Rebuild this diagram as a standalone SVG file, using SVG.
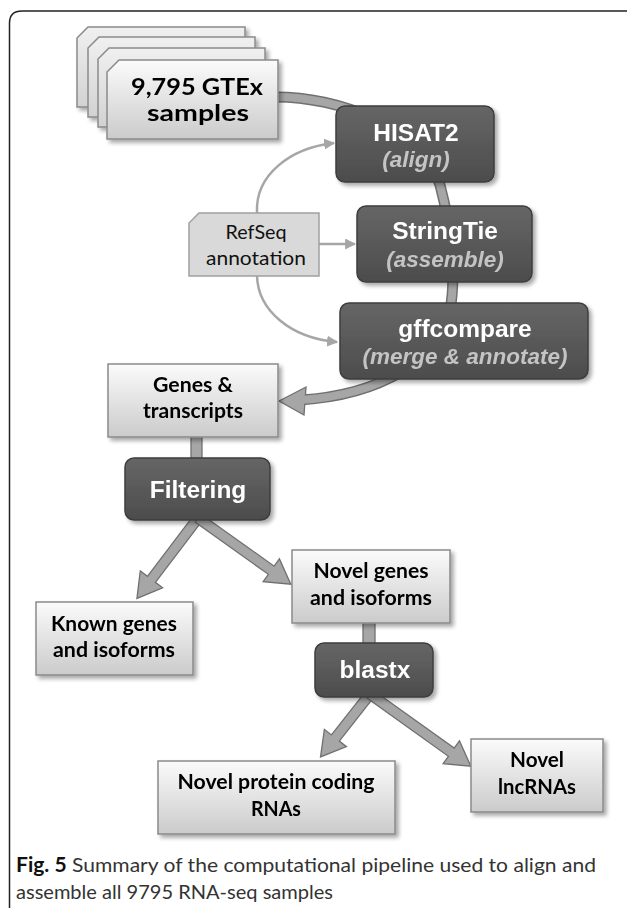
<svg xmlns="http://www.w3.org/2000/svg" width="627" height="908" viewBox="0 0 627 908">
<style>
.lt{font-family:Lato,"Open Sans","Liberation Sans",sans-serif;font-weight:bold;fill:#000;text-anchor:middle}
.dk{font-family:"Liberation Sans",Arial,sans-serif;font-weight:bold;fill:#fff;text-anchor:middle;font-size:24.5px}
.sub{font-family:"Liberation Sans",Arial,sans-serif;font-weight:bold;font-style:italic;fill:#c4c4c4;text-anchor:middle;font-size:22.5px}
.lbox{fill:url(#lg);stroke:#8a8a8a;stroke-width:1.5}
.dbox{fill:url(#dg);stroke:#3e3e3e;stroke-width:1.5}
.band{fill:#a6a6a6;stroke:#707070;stroke-width:1.3}
.thin{fill:none;stroke:#a6a6a6;stroke-width:2.5}
.cap{font-family:Lato,"Open Sans","Liberation Sans",sans-serif;font-size:20px;fill:#333}
</style>
<defs>
<linearGradient id="lg" x1="0" y1="0" x2="0" y2="1"><stop offset="0" stop-color="#fbfbfb"/><stop offset="1" stop-color="#cbcbcb"/></linearGradient>
<linearGradient id="bg" x1="0" y1="0" x2="0" y2="1"><stop offset="0" stop-color="#f0f0f0"/><stop offset="1" stop-color="#d2d2d2"/></linearGradient>
<linearGradient id="dg" x1="0" y1="0" x2="0" y2="1"><stop offset="0" stop-color="#666"/><stop offset="1" stop-color="#4c4c4c"/></linearGradient>
<filter id="sh" x="-10%" y="-10%" width="130%" height="140%"><feGaussianBlur in="SourceAlpha" stdDeviation="2"/><feOffset dx="3" dy="3"/><feComponentTransfer><feFuncA type="linear" slope="0.35"/></feComponentTransfer><feMerge><feMergeNode/><feMergeNode in="SourceGraphic"/></feMerge></filter>
<marker id="ah" viewBox="0 0 10 10" refX="9" refY="5" markerWidth="4.4" markerHeight="4.4" orient="auto" markerUnits="strokeWidth"><path d="M0,0 L10,5 L0,10 Z" fill="#a6a6a6"/></marker>
</defs>
<path d="M627 11 H22 Q9.5 11 9.5 23 V908" fill="none" stroke="#222" stroke-width="1.5"/>
<g id="connectors">
<path d="M270 97 C340 95,425 130,440 185 C452 230,456 280,450 310 C440 360,380 395,300 400" fill="none" stroke="#707070" stroke-width="11"/>
<polygon class="band" points="279,401 306,387 304,415"/>
<path d="M270 97 C340 95,425 130,440 185 C452 230,456 280,450 310 C440 360,380 395,300 400" fill="none" stroke="#a6a6a6" stroke-width="8"/>
<path class="thin" d="M257 213 C255 175,290 148,334 143" marker-end="url(#ah)"/>
<path class="thin" d="M319 244 H355" marker-end="url(#ah)"/>
<path class="thin" d="M257 276 C258 310,290 338,337 342" marker-end="url(#ah)"/>
<rect class="band" x="191" y="434" width="11" height="28"/>
<rect class="band" x="363" y="620" width="12" height="28"/>
<polygon class="band" transform="translate(198,518) rotate(127.2)" points="0,-5 77,-5 77,-14 101,0 77,14 77,5 0,5"/>
<polygon class="band" transform="translate(198,518) rotate(35.5)" points="0,-5 90,-5 90,-14 114,0 90,14 90,5 0,5"/>
<polygon class="band" transform="translate(370,694) rotate(128.2)" points="0,-5 56,-5 56,-14 80,0 56,14 56,5 0,5"/>
<polygon class="band" transform="translate(370,694) rotate(35.6)" points="0,-5 100,-5 100,-14 124,0 100,14 100,5 0,5"/>
</g>
<g id="gtex" filter="url(#sh)">
<path d="M88 27 H245 V107 H77 V38 Z" fill="url(#bg)" stroke="#8a8a8a" stroke-width="1.5"/>
<path d="M99 37 H255 V117 H88 V48 Z" fill="url(#bg)" stroke="#8a8a8a" stroke-width="1.5"/>
<path d="M109 48 H265 V127 H98 V59 Z" fill="url(#bg)" stroke="#8a8a8a" stroke-width="1.5"/>
<path class="lbox" d="M119 60 H278 V139 H107 V72 Z"/>
<text class="lt" x="197" y="95" font-size="23.5" textLength="132" lengthAdjust="spacingAndGlyphs">9,795 GTEx</text>
<text class="lt" x="198" y="121" font-size="23.5" textLength="102" lengthAdjust="spacingAndGlyphs">samples</text>
</g>
<g id="hisat2" filter="url(#sh)">
<rect class="dbox" x="336" y="106" width="158" height="76" rx="9"/>
<text class="dk" x="416" y="141">HISAT2</text>
<text class="sub" x="416" y="167">(align)</text>
</g>
<g id="stringtie" filter="url(#sh)">
<rect class="dbox" x="357" y="206" width="175" height="76" rx="9"/>
<text class="dk" x="445" y="239">StringTie</text>
<text class="sub" x="445" y="267">(assemble)</text>
</g>
<g id="gffcompare" filter="url(#sh)">
<rect class="dbox" x="340" y="303" width="248" height="76" rx="9"/>
<text class="dk" x="465" y="337">gffcompare</text>
<text class="sub" x="465" y="364">(merge &amp; annotate)</text>
</g>
<g id="refseq">
<path d="M199 213 H319 V276 H189 V223 Z" fill="#d9d9d9" stroke="#a0a0a0" stroke-width="1.5"/>
<text x="256" y="239" font-family="Lato,'Open Sans','Liberation Sans',sans-serif" font-size="20" text-anchor="middle" fill="#111" textLength="61" lengthAdjust="spacingAndGlyphs">RefSeq</text>
<text x="256" y="265" font-family="Lato,'Open Sans','Liberation Sans',sans-serif" font-size="20" text-anchor="middle" fill="#111" textLength="100" lengthAdjust="spacingAndGlyphs">annotation</text>
</g>
<g id="genes" filter="url(#sh)">
<rect class="lbox" x="108" y="364" width="170" height="73"/>
<text class="lt" x="193" y="392" font-size="20" textLength="80" lengthAdjust="spacingAndGlyphs">Genes &amp;</text>
<text class="lt" x="193" y="418" font-size="20" textLength="100" lengthAdjust="spacingAndGlyphs">transcripts</text>
</g>
<g id="filtering" filter="url(#sh)">
<rect class="dbox" x="125" y="458" width="145" height="62" rx="9"/>
<text class="dk" x="198" y="498">Filtering</text>
</g>
<g id="known" filter="url(#sh)">
<rect class="lbox" x="36" y="602" width="157" height="73"/>
<text class="lt" x="114" y="631" font-size="20" textLength="126" lengthAdjust="spacingAndGlyphs">Known genes</text>
<text class="lt" x="114" y="657" font-size="20" textLength="122" lengthAdjust="spacingAndGlyphs">and isoforms</text>
</g>
<g id="novelgenes" filter="url(#sh)">
<rect class="lbox" x="292" y="550" width="158" height="73"/>
<text class="lt" x="371" y="578" font-size="20" textLength="115" lengthAdjust="spacingAndGlyphs">Novel genes</text>
<text class="lt" x="371" y="605" font-size="20" textLength="122" lengthAdjust="spacingAndGlyphs">and isoforms</text>
</g>
<g id="blastx" filter="url(#sh)">
<rect class="dbox" x="315" y="643" width="118" height="54" rx="9"/>
<text class="dk" x="375" y="678">blastx</text>
</g>
<g id="novelprotein" filter="url(#sh)">
<rect class="lbox" x="158" y="761" width="237" height="73"/>
<text class="lt" x="276" y="789" font-size="20" textLength="197" lengthAdjust="spacingAndGlyphs">Novel protein coding</text>
<text class="lt" x="276" y="816" font-size="20" textLength="50" lengthAdjust="spacingAndGlyphs">RNAs</text>
</g>
<g id="lncrna" filter="url(#sh)">
<rect class="lbox" x="471" y="739" width="132" height="73"/>
<text class="lt" x="537" y="767" font-size="20" textLength="54" lengthAdjust="spacingAndGlyphs">Novel</text>
<text class="lt" x="537" y="794" font-size="20" textLength="78" lengthAdjust="spacingAndGlyphs">lncRNAs</text>
</g>
<g id="caption">
<text class="cap" x="16" y="872" textLength="580" lengthAdjust="spacingAndGlyphs"><tspan font-weight="bold" fill="#111">Fig. 5</tspan> Summary of the computational pipeline used to align and</text>
<text class="cap" x="16" y="899" textLength="317" lengthAdjust="spacingAndGlyphs">assemble all 9795 RNA-seq samples</text>
</g>
</svg>
